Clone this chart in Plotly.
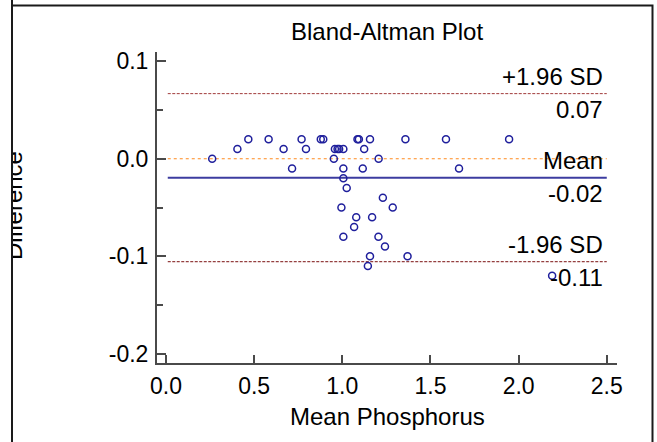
import plotly.graph_objects as go

# ---- data ----
mean_phosphorus = [0.467, 0.582, 0.769, 0.878, 0.892, 1.086, 1.094, 1.157, 1.358, 1.588, 1.946,
                   0.405, 0.667, 0.794, 0.958, 0.973, 0.982, 1.006, 1.124,
                   0.262, 0.952, 1.206,
                   0.715, 1.006, 1.116, 1.662,
                   1.006, 1.025, 1.230, 0.995, 1.286, 1.079, 1.169, 1.067,
                   1.006, 1.205, 1.242, 1.157, 1.370, 1.145, 2.190]
difference = [0.02] * 11 + [0.01] * 8 + [0.0] * 3 + [-0.01] * 4 + \
             [-0.02, -0.03, -0.04, -0.05, -0.05, -0.06, -0.06, -0.07,
              -0.08, -0.08, -0.09, -0.10, -0.10, -0.11, -0.12]
bias = -0.0195
upper_loa = 0.0668
lower_loa = -0.1056
zero_ref = 0.0
x_ticks = [0.0, 0.5, 1.0, 1.5, 2.0, 2.5]
x_tick_labels = ["0.0", "0.5", "1.0", "1.5", "2.0", "2.5"]
y_ticks = [-0.2, -0.1, 0.0, 0.1]
y_tick_labels = ["-0.2", "-0.1", "0.0", "0.1"]
y_minor = [-0.15, -0.05, 0.05]

# ---- layout geometry (pixels) ----
W, H = 657, 442
L, R, T, B = 157, 40, 52, 79
PW, PH = W - L - R, H - T - B
FONT = "Liberation Sans, Arial, sans-serif"


def px_x(p):
    return (p - L) / PW


def px_y(p):
    return (T + PH - p) / PH


fig = go.Figure()
fig.add_trace(go.Scatter(
    x=mean_phosphorus, y=difference, mode="markers",
    marker=dict(symbol="circle-open", size=7, color="#1f1f9c", line=dict(width=1.5, color="#1f1f9c")),
    showlegend=False, hoverinfo="x+y"))

x_lo, x_hi = 0.01, 2.5
shapes = [
    dict(type="line", xref="x", yref="y", x0=x_lo, x1=x_hi, y0=upper_loa, y1=upper_loa,
         line=dict(color="#a03a3a", width=1, dash="3px,1.5px"), layer="below"),
    dict(type="line", xref="x", yref="y", x0=x_lo, x1=x_hi, y0=zero_ref, y1=zero_ref,
         line=dict(color="#ff8a1e", width=1, dash="dot"), layer="below"),
    dict(type="line", xref="x", yref="y", x0=x_lo, x1=x_hi, y0=bias, y1=bias,
         line=dict(color="#3c3ca0", width=2), layer="below"),
    dict(type="line", xref="x", yref="y", x0=x_lo, x1=x_hi, y0=lower_loa, y1=lower_loa,
         line=dict(color="#7a1010", width=1, dash="3px,1.5px"), layer="below"),
    # outer frame
    dict(type="rect", xref="paper", yref="paper", x0=px_x(12), x1=px_x(652.5),
         y0=px_y(470), y1=px_y(5.5), line=dict(color="#1a1a1a", width=2), layer="above"),
]

lbl_font = dict(family=FONT, size=24, color="black")
ann = []
lab_x = 2.49
for val, above, below in [(upper_loa, "+1.96 SD", f"{upper_loa:.2f}"),
                          (bias, "Mean", f"{bias:.2f}"),
                          (lower_loa, "-1.96 SD", f"{lower_loa:.2f}")]:
    ann.append(dict(x=lab_x, y=val, xref="x", yref="y", text=above, showarrow=False,
                    xanchor="right", yanchor="middle", yshift=17, font=lbl_font))
    ann.append(dict(x=lab_x, y=val, xref="x", yref="y", text=below, showarrow=False,
                    xanchor="right", yanchor="middle", yshift=-16, font=lbl_font))

ann.append(dict(x=0.5, y=px_y(31), xref="paper", yref="paper", text="Bland-Altman Plot",
                showarrow=False, xanchor="center", yanchor="middle", font=lbl_font))
ann.append(dict(x=0.5, y=px_y(416), xref="paper", yref="paper", text="Mean Phosphorus",
                showarrow=False, xanchor="center", yanchor="middle", font=lbl_font))
ann.append(dict(x=px_x(13), y=px_y(206), xref="paper", yref="paper", text="Difference",
                showarrow=False, xanchor="center", yanchor="middle", textangle=-90, font=lbl_font))
# left edge of the outer frame, drawn over the partly hidden y title as in the reference
ann.append(dict(x=px_x(13), y=px_y(221), xref="paper", yref="paper", text=" ",
                showarrow=False, xanchor="right", yanchor="middle", width=40, height=600,
                bgcolor="white", bordercolor="#1a1a1a", borderwidth=2, borderpad=0))

axis_common = dict(showline=True, linecolor="#4a4a4a", linewidth=2, ticks="inside",
                   tickcolor="#4a4a4a", tickwidth=2, showgrid=False, zeroline=False,
                   tickfont=dict(family=FONT, size=23, color="black"), tickmode="array")

fig.update_layout(
    width=W, height=H, margin=dict(l=L, r=R, t=T, b=B, autoexpand=False),
    paper_bgcolor="white", plot_bgcolor="white",
    xaxis=dict(range=[-0.051, 2.558], tickvals=x_ticks, ticktext=x_tick_labels, ticklen=8,
               ticklabelstandoff=1, **axis_common),
    yaxis=dict(range=[-0.2095, 0.1095], tickvals=y_ticks, ticktext=y_tick_labels, ticklen=9,
               ticklabelstandoff=2,
               minor=dict(tickvals=y_minor, ticks="inside", ticklen=6, tickcolor="#4a4a4a", tickwidth=2),
               **axis_common),
    shapes=shapes, annotations=ann,
)

fig.write_html("out.html")
